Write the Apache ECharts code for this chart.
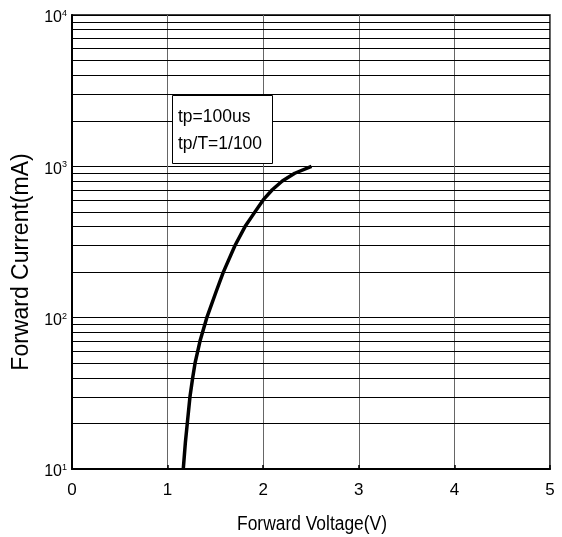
<!DOCTYPE html>
<html>
<head>
<meta charset="utf-8">
<script src="https://cdn.jsdelivr.net/npm/echarts@6/dist/echarts.min.js"></script>
<style>
html,body{margin:0;padding:0;background:#fff;}
#chart{width:562px;height:537px;}
</style>
</head>
<body>
<div id="chart"></div>
<script>
const voltage = [1.164, 1.186, 1.206, 1.234, 1.262, 1.287, 1.339, 1.41, 1.51, 1.583, 1.705, 1.81, 1.914, 2.00, 2.095, 2.20, 2.33, 2.505];
const current = [10, 15, 20, 30, 40, 50, 70, 100, 150, 200, 300, 400, 500, 600, 700, 800, 900, 1000];
const minorGridValues = [20, 30, 40, 50, 60, 70, 80, 90, 200, 300, 400, 500, 600, 700, 800, 900, 2000, 3000, 4000, 5000, 6000, 7000, 8000, 9000];
const xTickValues = [0, 1, 2, 3, 4, 5];
const yTickValues = [10, 100, 1000, 10000];
const noteLines = ['tp=100us', 'tp/T=1/100'];
const xTitle = 'Forward Voltage(V)';
const yTitle = 'Forward Current(mA)';

const chart = echarts.init(document.getElementById('chart'));
const fontFam = '"Liberation Sans", Arial, sans-serif';

const option = {
  animation: false,
  backgroundColor: '#fff',
  grid: { left: 72, right: 12, top: 15, bottom: 68, show: true, borderColor: '#000', borderWidth: 1.5, backgroundColor: 'transparent' },
  xAxis: {
    type: 'value', min: xTickValues[0], max: xTickValues[xTickValues.length - 1], interval: 1,
    axisLine: { show: true, lineStyle: { color: '#000', width: 2 } },
    axisTick: { show: true, inside: true, length: 4, lineStyle: { color: '#000', width: 1.5 } },
    axisLabel: { fontFamily: fontFam, fontSize: 17, color: '#000', margin: 13 },
    splitLine: { show: true, lineStyle: { color: '#666', width: 1 } }
  },
  yAxis: {
    type: 'log', logBase: 10, min: yTickValues[0], max: yTickValues[yTickValues.length - 1],
    name: yTitle, nameLocation: 'middle', nameGap: 39,
    nameTextStyle: { fontFamily: fontFam, fontSize: 23, color: '#000', padding: [0, 40, 0, 0] },
    axisLine: { show: true, lineStyle: { color: '#000', width: 2 } },
    axisTick: { show: false },
    axisLabel: {
      margin: 5,
      padding: [6, 0, 0, 0],
      formatter: function (v) {
        const e = Math.round(Math.log10(v));
        return '{b|10}{s|' + e + '}';
      },
      rich: {
        b: { fontFamily: fontFam, fontSize: 16, color: '#000' },
        s: { fontFamily: fontFam, fontSize: 9, color: '#000', verticalAlign: 'top', padding: [0, 0, 9, 0] }
      }
    },
    splitLine: { show: true, lineStyle: { color: '#000', width: 1 } }
  },
  series: [{
    type: 'line',
    smooth: false,
    symbol: 'none',
    data: voltage.map((v, i) => [v, current[i]]),
    lineStyle: { color: '#000', width: 3.5, join: 'round', cap: 'butt' },
    z: 5,
    markLine: {
      silent: true,
      symbol: ['none', 'none'],
      label: { show: false },
      lineStyle: { color: '#000', width: 1, type: 'solid' },
      data: minorGridValues.map(v => ({ yAxis: v }))
    }
  }],
  graphic: [
    { type: 'rect', shape: { x: 172.5, y: 95.5, width: 100, height: 68 }, style: { fill: '#fff', stroke: '#000', lineWidth: 1 }, z: 10 },
    { type: 'text', x: 178, y: 103, scaleX: 0.92, style: { text: noteLines.join('\n'), fontFamily: fontFam, fontSize: 19, lineHeight: 27, fill: '#000' }, z: 11 },
    { type: 'text', x: 312, y: 524, scaleX: 0.87, style: { text: xTitle, fontFamily: fontFam, fontSize: 20, fill: '#000', align: 'center', verticalAlign: 'middle' }, z: 11 }
  ]
};
chart.setOption(option);
</script>
</body>
</html>
